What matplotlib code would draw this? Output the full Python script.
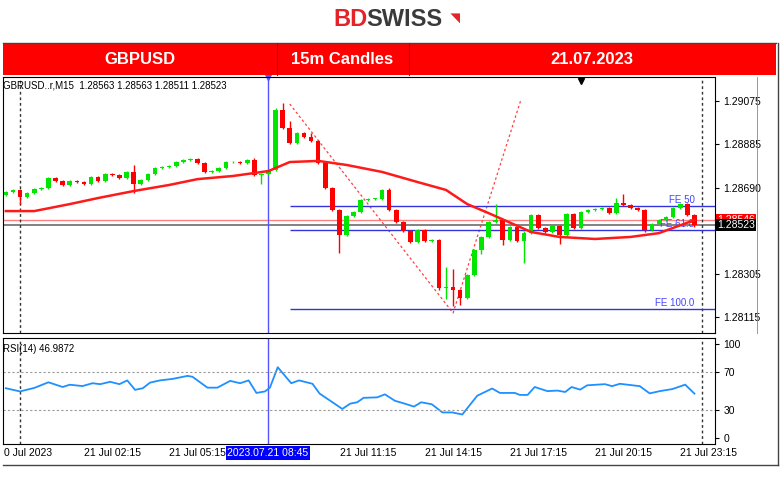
import matplotlib
matplotlib.use("Agg")
import matplotlib.pyplot as plt
import numpy as np
from matplotlib.patches import Rectangle

plt.rcParams["font.family"] = ["Liberation Sans", "DejaVu Sans"]

# 15m candles, index 0 = 21 Jul 00:00
first_open = 1.28657
closes = [1.28671, 1.28680, 1.28648, 1.28666, 1.28684, 1.28688, 1.28733, 1.28720, 1.28702, 1.28720,
          1.28715, 1.28706, 1.28737, 1.28720, 1.28751, 1.28746, 1.28733, 1.28760, 1.28706, 1.28724,
          1.28751, 1.28777, 1.28782, 1.28786, 1.28804, 1.28813, 1.28817, 1.28800, 1.28760, 1.28764,
          1.28777, 1.28804, 1.28804, 1.28800, 1.28813, 1.28746, 1.28751, 1.28769, 1.29035, 1.28955,
          1.28888, 1.28933, 1.28915, 1.28897, 1.28800, 1.28688, 1.28591, 1.28480, 1.28564, 1.28582,
          1.28635, 1.28640, 1.28640, 1.28680, 1.28591, 1.28537, 1.28497, 1.28448, 1.28502, 1.28453,
          1.28457, 1.28244, 1.28248, 1.28235, 1.28200, 1.28302, 1.28413, 1.28471, 1.28537, 1.28546,
          1.28457, 1.28515, 1.28453, 1.28488, 1.28568, 1.28511, 1.28493, 1.28520, 1.28480, 1.28573,
          1.28511, 1.28582, 1.28591, 1.28595, 1.28600, 1.28577, 1.28622, 1.28613, 1.28600, 1.28591,
          1.28502, 1.28528, 1.28546, 1.28560, 1.28600, 1.28617, 1.28568, 1.28523]
start_idx = -2
# wick extensions in pips (index: pips)
wick_up = {16: 3, 33: 1, 36: 1, 37: 3, 38: 3, 52: 1, 60: 9, 61: 8, 67: 7, 71: 1, 85: 4, 84: 2, 41: 2}
wick_dn = {0: 3, 16: 4, 34: 4, 45: 8, 59: 1, 60: 5, 61: 7, 62: 3, 68: 2, 71: 10, 88: 1, 65: 2, 76: 4}

ma_idx = [-2, 2, 7, 11, 16, 21, 25, 30, 35, 38, 42, 46, 51, 56, 60, 63, 66, 72, 76, 81, 86, 90, 95]
ma_val = [1.28586, 1.28586, 1.28617, 1.28644, 1.28675, 1.28702, 1.28728, 1.28742, 1.28764, 1.28804,
          1.28809, 1.28791, 1.28760, 1.28715, 1.28680, 1.28617, 1.28577, 1.28493, 1.28471, 1.28462,
          1.28471, 1.28488, 1.28546]

fibo_idx = [38, 61, 70.5]
fibo_val = [1.29062, 1.28133, 1.29075]
fe_levels = {"FE 50": 1.28609, "FE 61.8": 1.28502, "FE 100.0": 1.28151}

rsi_idx = [-2, 0, 2, 4, 6, 7, 8.8, 10.2, 11.3, 12.7, 14, 15.1, 16.2, 17.3, 18.3, 19.7, 21.5, 23.6, 24.3,
           26.4, 27.8, 29.6, 31, 32.2, 33.3, 34.5, 35.2, 36.3, 38.2, 39.3, 41.2, 42.2, 43.7, 45.4, 46.5,
           47.5, 48.4, 50.3, 51.4, 52.8, 54.2, 55.5, 56.5, 58, 59.5, 60.9, 62.3, 64.4, 66.5, 67.6, 69.7,
           70.4, 71.5, 72.5, 74.3, 75.7, 76.8, 77.7, 78.9, 79.9, 82.4, 83.4, 84.5, 87.3, 88.7, 90.1, 91.9,
           93.7, 95]
rsi_val = [52.7, 49.3, 53, 59, 54, 56.4, 55, 58, 57, 59.5, 57, 61, 51, 52.7, 58.6, 61, 62.6, 65.8, 64.8,
           53.3, 53.3, 60.5, 58, 61, 47.7, 49.3, 53.3, 75, 58, 61, 57.4, 47, 39.4, 30.7, 36.3,
           37.8, 42.5, 43, 46.2, 39.4, 36.3, 33.2, 37.8, 35.7, 27, 27, 24.8, 44.7, 52.4, 47.7, 47.7,
           45.6, 45.6, 54, 49.6, 50.2, 48.7, 54, 51.2, 55.8, 57, 54.9, 57.4, 54.9, 47.2, 49.6, 51.8,
           56.5, 47]

price_ticks = [1.29075, 1.28885, 1.28690, 1.28305, 1.28115]
time_labels = ["0 Jul 2023", "21 Jul 02:15", "21 Jul 05:15", "21 Jul 11:15", "21 Jul 14:15",
               "21 Jul 17:15", "21 Jul 20:15", "21 Jul 23:15"]
time_pos = [-2.3, 9, 21, 45, 57, 69, 81, 93]

W, H = 780, 478
fig = plt.figure(figsize=(7.8, 4.78), dpi=100)

def fx(px):
    return px / W

def fy(py):
    return 1 - py / H

# logo
fig.text(fx(333), fy(20), "BD", color="#e52228", fontsize=17, fontweight="bold", va="center")
fig.text(fx(366), fy(20), "SWISS", color="#3a3a3a", fontsize=17, fontweight="bold", va="center")
fig.text(fx(450), fy(17), "\u25e3", color="#e52228", fontsize=9, va="center", rotation=180)

# header bar
fig.patches.append(Rectangle((fx(3), fy(75)), fx(773), 32 / H, transform=fig.transFigure,
                             facecolor="#ff0000", edgecolor="none"))
for sx in [277, 409]:
    fig.add_artist(plt.Line2D([fx(sx), fx(sx)], [fy(75), fy(43)], color="#b00000", lw=0.8))
fig.add_artist(plt.Line2D([fx(3), fx(776)], [fy(43), fy(43)], color="#444444", lw=1))
for txt, cx in [("GBPUSD", 140), ("15m Candles", 342), ("21.07.2023", 592)]:
    fig.text(fx(cx), fy(60), txt, color="white", fontsize=12, fontweight="bold", ha="center", va="center")

ax = fig.add_axes([fx(3), fy(333), fx(712), 256 / H])
axr = fig.add_axes([fx(3), fy(444), fx(712), 106 / H])

n = len(closes)
idx = np.arange(start_idx, start_idx + n)
opens = np.concatenate([[first_open], closes[:-1]])
closes_a = np.array(closes)
for k, i in enumerate(idx):
    o, c = opens[k], closes_a[k]
    col = "#00e600" if c >= o else "#ff0000"
    hi = max(o, c) + wick_up.get(i, 0.6) * 1e-4
    lo = min(o, c) - wick_dn.get(i, 0.6) * 1e-4
    ax.vlines(i, lo, hi, color=col, lw=1, zorder=3)
    ax.bar(i, max(abs(c - o), 0.00002), bottom=min(o, c), width=0.65, color=col, zorder=4)

ax.plot(ma_idx, ma_val, color="#ff1a1a", lw=1.8, zorder=5)
ax.plot(fibo_idx, fibo_val, color="#ff4040", lw=0.9, ls=(0, (2, 2)), zorder=2)
for name, lvl in fe_levels.items():
    ax.hlines(lvl, 38, 98, color="#3333dd", lw=1, zorder=2)
    ax.text(95, lvl + 0.00003, name, color="#4444ff", fontsize=7, ha="right", va="bottom")
ax.axhline(1.28546, color="#ff8080", lw=1, zorder=1)
ax.axhline(1.28523, color="#777777", lw=1.3, zorder=1)

xlim = (-2.4, 97.9)
for a in (ax, axr):
    a.set_xlim(*xlim)
    a.axvline(35, color="#5555ff", lw=1, zorder=1)
    for d in (0, 96):
        a.axvline(d, color="#333333", lw=1, ls=(0, (2, 2)), zorder=1)
    a.yaxis.tick_right()
    a.tick_params(axis="y", labelsize=7.5, length=3, pad=3)
    a.set_xticks([])
ax.set_ylim(1.28044, 1.29182)
ax.set_yticks(price_ticks)
ax.set_yticklabels(["%.5f" % v for v in price_ticks])
for lvl, txt, fc in [(1.28546, "1.28546", "#ff0000"), (1.28523, "1.28523", "black")]:
    ax.text(1.003, lvl, txt, transform=ax.get_yaxis_transform(), fontsize=7.5, color="white",
            va="center", ha="left", bbox=dict(boxstyle="square,pad=0.1", fc=fc, ec="none"))
ax.plot([35], [1.2918], marker="v", color="#5555ff", ms=4, clip_on=False)
ax.plot([79], [1.29165], marker="v", color="black", ms=4, clip_on=False)
ax.text(0.0, 0.985, "GBRUSD..r,M15  1.28563 1.28563 1.28511 1.28523", transform=ax.transAxes,
        fontsize=7, va="top", ha="left")

axr.plot(rsi_idx, rsi_val, color="#1e90ff", lw=1.3)
axr.set_ylim(-6.5, 106)
axr.set_yticks([100, 70, 30, 0])
for lv in (70, 30):
    axr.axhline(lv, color="#999999", lw=0.8, ls=(0, (2, 2)))
axr.text(0.0, 0.94, "RSI(14) 46.9872", transform=axr.transAxes, fontsize=7, va="top", ha="left")

for t, p in zip(time_labels, time_pos):
    fig.text(fx(20 + p * 7.1), fy(453), t, fontsize=7.5, va="center", ha="left")
fig.text(fx(268), fy(453), "2023.07.21 08:45", fontsize=7.5, va="center", ha="center", color="white",
         bbox=dict(boxstyle="square,pad=0.15", fc="#0000ff", ec="none"))
fig.add_artist(plt.Line2D([fx(3), fx(778)], [fy(465), fy(465)], color="#444444", lw=1))
fig.add_artist(plt.Line2D([fx(778), fx(778)], [fy(465), fy(43)], color="#444444", lw=1))
fig.add_artist(plt.Line2D([fx(757), fx(757)], [fy(333), fy(77)], color="#888888", lw=0.6))

fig.savefig("out.png", dpi=100)
